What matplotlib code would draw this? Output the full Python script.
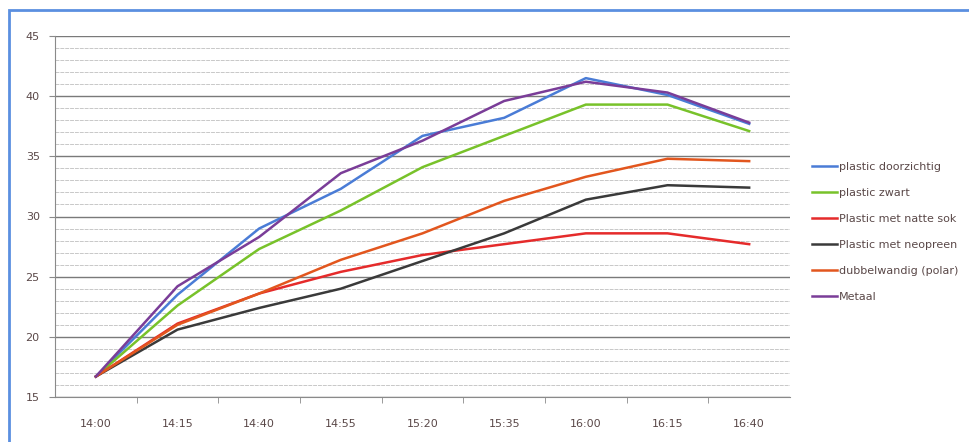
import matplotlib.pyplot as plt
from matplotlib.patches import Rectangle

# Tijdstippen (categorie-as)
tijden = ['14:00', '14:15', '14:40', '14:55', '15:20', '15:35', '16:00', '16:15', '16:40']

# Temperaturen per opstelling
plastic_doorzichtig = [16.7, 23.5, 29.0, 32.3, 36.7, 38.2, 41.5, 40.1, 37.7]
plastic_zwart = [16.7, 22.6, 27.3, 30.5, 34.1, 36.7, 39.3, 39.3, 37.1]
plastic_natte_sok = [16.7, 21.1, 23.6, 25.4, 26.8, 27.7, 28.6, 28.6, 27.7]
plastic_neopreen = [16.7, 20.6, 22.4, 24.0, 26.3, 28.6, 31.4, 32.6, 32.4]
dubbelwandig = [16.7, 21.0, 23.6, 26.4, 28.6, 31.3, 33.3, 34.8, 34.6]
metaal = [16.7, 24.2, 28.3, 33.6, 36.3, 39.6, 41.2, 40.3, 37.8]

reeksen = [
    ('plastic doorzichtig', plastic_doorzichtig, '#4a7cd6'),
    ('plastic zwart', plastic_zwart, '#78c22a'),
    ('Plastic met natte sok', plastic_natte_sok, '#e52b2b'),
    ('Plastic met neopreen', plastic_neopreen, '#3a3a3a'),
    ('dubbelwandig (polar)', dubbelwandig, '#e2561e'),
    ('Metaal', metaal, '#7a3d98'),
]

tekstkleur = '#5a4848'

fig = plt.figure(figsize=(9.7, 4.42), dpi=100)
ax = fig.add_axes([55 / 970, 45 / 442, 735 / 970, 361 / 442])

x = list(range(len(tijden)))
for naam, waarden, kleur in reeksen:
    ax.plot(x, waarden, color=kleur, linewidth=1.8, label=naam, zorder=3)

ax.set_xlim(-0.5, len(tijden) - 0.5)
ax.set_ylim(15, 45)
ax.set_yticks(range(15, 46, 5))
ax.set_yticks(range(15, 46, 1), minor=True)
ax.set_xticks(x)
ax.set_xticklabels(tijden)
ax.set_xticks([i + 0.5 for i in range(len(tijden) - 1)], minor=True)

ax.grid(axis='y', which='major', color='#7a7a7a', linewidth=1.0)
ax.grid(axis='y', which='minor', color='#c8c8c8', linewidth=0.7, linestyle=(0, (4, 1)))
ax.set_axisbelow(True)

for side in ['top', 'right']:
    ax.spines[side].set_visible(False)
for side in ['left', 'bottom']:
    ax.spines[side].set_color('#8a8a8a')

ax.tick_params(axis='y', which='major', length=4, color='#8a8a8a', labelsize=8, labelcolor=tekstkleur, pad=7)
ax.tick_params(axis='y', which='minor', length=0)
ax.tick_params(axis='x', which='major', length=0, labelsize=8, labelcolor=tekstkleur, pad=16)
ax.tick_params(axis='x', which='minor', length=4, color='#8a8a8a')

leg = fig.legend(loc='center left', bbox_to_anchor=(808 / 970, 0.475), frameon=False,
                 fontsize=8, labelspacing=1.45, handlelength=2.2, handletextpad=0.2,
                 borderaxespad=0)
for t in leg.get_texts():
    t.set_color(tekstkleur)

# blauwe kader rond de grafiek
fig.patches.append(Rectangle((9 / 970, -0.05), 1.1, (442 - 10) / 442 + 0.05,
                             transform=fig.transFigure, fill=False,
                             edgecolor='#5b8fe0', linewidth=2.0))

fig.savefig('out.png', dpi=100)
